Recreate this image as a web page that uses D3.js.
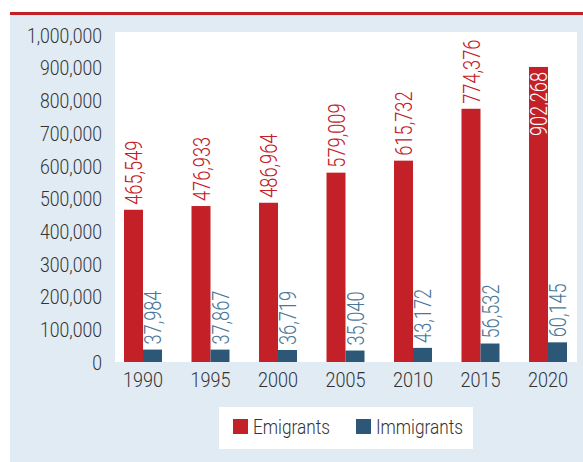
<!DOCTYPE html>
<html><head><meta charset="utf-8">
<script src="https://cdn.jsdelivr.net/npm/d3@7"></script>
<style>
html,body{margin:0;padding:0;background:#fff;}
svg{display:block;font-family:Roboto,"Open Sans",sans-serif;font-weight:300;}
</style></head>
<body>
<script>
const years = ["1990","1995","2000","2005","2010","2015","2020"];
const emigrants = [465549, 476933, 486964, 579009, 615732, 774376, 902268];
const immigrants = [37984, 37867, 36719, 35040, 43172, 56532, 60145];
const seriesNames = ["Emigrants","Immigrants"];
const yTicks = [0,100000,200000,300000,400000,500000,600000,700000,800000,900000,1000000];

const W = 583, H = 462;
const red = "#c32027", blue = "#2c5777", blueText = "#4b7898", bg = "#e1ebf4", ink = "#333333";
const sx = 0.88;

const svg = d3.select("body").append("svg").attr("width", W).attr("height", H);
svg.append("rect").attr("x",10).attr("y",15).attr("width",W-10).attr("height",H-15).attr("fill",bg);
svg.append("rect").attr("x",10).attr("y",12).attr("width",W-10).attr("height",3).attr("fill",red);
svg.append("rect").attr("x",115).attr("y",32).attr("width",577-115).attr("height",362-32).attr("fill","#fff");

const y = d3.scaleLinear().domain([0,1000000]).range([362,35]);
const x0 = d3.scaleBand().domain(years).range([109.25,581.75]).paddingInner(0.437).paddingOuter(0.2185);
const x1 = d3.scaleBand().domain(seriesNames).range([0, x0.bandwidth()]);
const color = d3.scaleOrdinal().domain(seriesNames).range([red, blue]);

// y axis
const yAxis = svg.append("g").attr("transform","translate(115,0)")
  .call(d3.axisLeft(y).tickValues(yTicks).tickSize(0).tickFormat(d3.format(",")));
yAxis.select(".domain").remove();
yAxis.selectAll("text").attr("x", -13/sx).attr("dy","0.36em")
  .attr("transform",`scale(${sx},1)`).attr("fill",ink)
  .style("font-size","20px").style("font-family","Roboto").style("font-weight","300");

// x axis
const xAxis = svg.append("g").attr("transform","translate(0,362)")
  .call(d3.axisBottom(x0).tickSize(0));
xAxis.select(".domain").remove();
xAxis.selectAll(".tick").each(function(){
  const t = d3.select(this).select("text");
  t.attr("y",0).attr("dy",null).attr("transform",`translate(0,24.5) scale(${sx},1)`)
   .attr("fill",ink).style("font-size","20.5px").style("font-family","Roboto").style("font-weight","300");
});

const rows = years.map((yr,i)=>({year:yr, values:[{k:"Emigrants",v:emigrants[i]},{k:"Immigrants",v:immigrants[i]}]}));
const g = svg.append("g").selectAll("g").data(rows).join("g")
  .attr("transform", d=>`translate(${x0(d.year)},0)`);
g.selectAll("rect").data(d=>d.values).join("rect")
  .attr("x", d=>x1(d.k)).attr("width", x1.bandwidth())
  .attr("y", d=>y(d.v)).attr("height", d=>y(0)-y(d.v)).attr("fill", d=>color(d.k));

const vsx = 0.76;
g.selectAll("text.val").data(d=>d.values).join("text").attr("class","val")
  .each(function(d){
    const inside = y(d.v) < 100;
    const cx = x1(d.k) + x1.bandwidth()/2;
    const t = d3.select(this);
    if (inside) {
      t.attr("transform",`translate(${cx},${y(d.v)+5}) rotate(-90) scale(${vsx},1)`)
       .attr("text-anchor","end").attr("fill","#fff");
    } else {
      t.attr("transform",`translate(${cx},${y(d.v)-5}) rotate(-90) scale(${vsx},1)`)
       .attr("text-anchor","start").attr("fill", d.k==="Emigrants"?red:blueText);
    }
    t.attr("dy","0.36em").style("font-size","24px").text(d3.format(",")(d.v));
  });

// legend
const lg = svg.append("g");
lg.append("rect").attr("x",219).attr("y",407).attr("width",254).attr("height",42).attr("fill","#fff");
const lx = [233, 356];
const li = lg.selectAll("g").data(seriesNames).join("g").attr("transform",(d,i)=>`translate(${lx[i]},419)`);
li.append("rect").attr("width",15).attr("height",15).attr("fill",d=>color(d));
li.append("text").attr("transform",`translate(20,14.5) scale(0.84,1)`).attr("fill",ink)
  .style("font-size","20.5px").text(d=>d);
</script>
</body></html>
